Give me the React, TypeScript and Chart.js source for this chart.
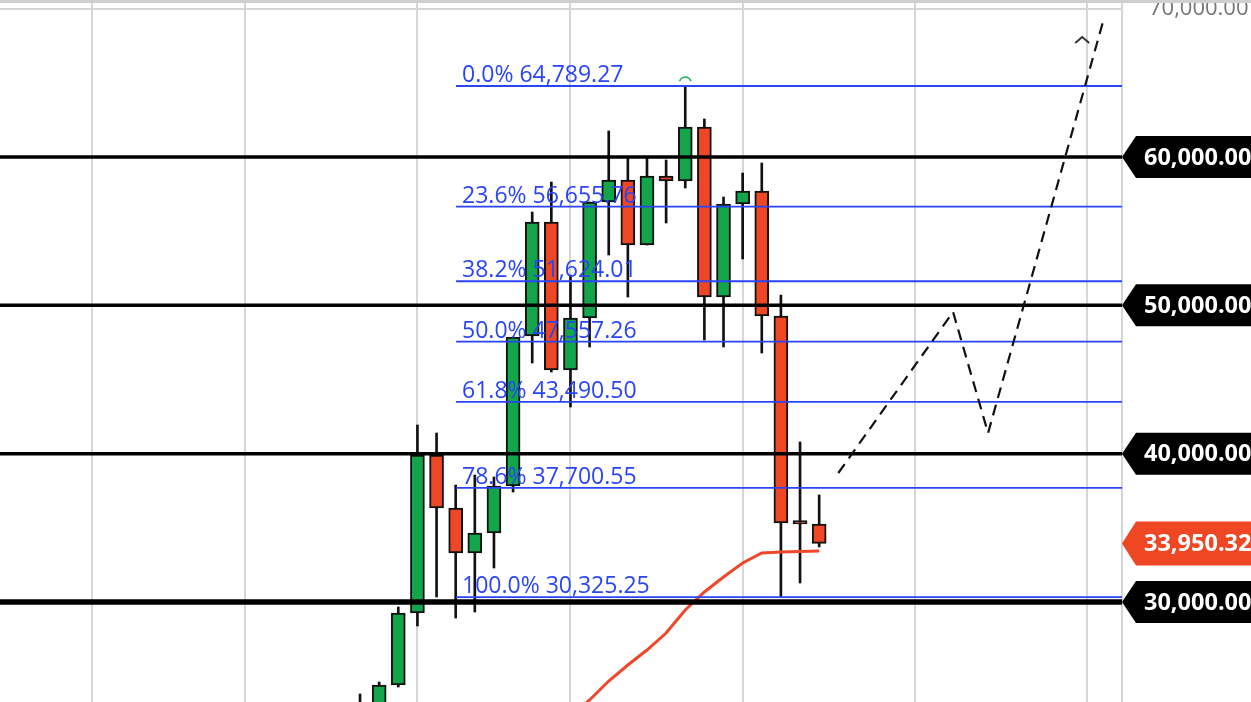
import React, { useEffect, useRef } from "react";
import { Chart, registerables } from "chart.js";

Chart.register(...registerables);

// ---- data (weekly candles, x = candle index) ----
const candleIndex = [0, 1, 2, 3, 4, 5, 6, 7, 8, 9, 10, 11, 12, 13, 14, 15, 16, 17, 18, 19, 20, 21, 22, 23, 24];
const opens = [20696, 22584, 24404, 29258, 39911, 36337, 33304, 34652, 37821, 47934, 55620, 45641, 49147, 56968, 58451, 54069, 58721, 58384, 62025, 50563, 56833, 57710, 49282, 35490, 35259];
const highs = [23797, 24606, 29663, 41933, 41394, 37888, 38562, 38428, 47866, 56294, 58316, 52046, 56968, 61755, 59934, 59934, 59800, 64789.27, 62564, 57305, 58923, 59597, 50698, 40787, 37214];
const lows = [20022, 22314, 24269, 28382, 30337, 28921, 29326, 32292, 37416, 46113, 45507, 43147, 47192, 53395, 50563, 54069, 55552, 57912, 47664, 47192, 53125, 46788, 30325.25, 31281, 33708];
const closes = [23191, 24404, 29258, 39911, 36337, 33304, 34652, 37821, 47866, 55620, 45641, 49147, 56968, 58451, 54069, 58721, 58384, 62025, 50563, 56833, 57710, 49282, 35326, 35259, 33950.32];

const maIndex = [11, 12, 13, 14, 15, 16, 17, 18, 19, 20, 21, 22, 23, 24];
const maValues = [22314, 23393, 24674, 25752, 26764, 27910, 29461, 30674, 31686, 32629, 33304, 33371, 33405, 33438];

const fibRatios = ["0.0%", "23.6%", "38.2%", "50.0%", "61.8%", "78.6%", "100.0%"];
const fibLevels = [64789.27, 56655.76, 51624.01, 47557.26, 43490.5, 37700.55, 30325.25];
const fibStartIndex = 5.02;

const roundLevels = [60000, 50000, 40000, 30000];
const roundWidths = [3.5, 3.5, 3.5, 5.5];

const projectionX = [25, 31, 32.83, 38.89];
const projectionY = [38697, 49552, 41394, 69373];

const arrowMarkX = 37.75;
const arrowMarkY = 68090;

const lastPrice = 33950.32;

const yTickValues = [30000, 40000, 50000, 60000, 70000];
const xGridValues = [-14, -6, 3, 11, 20, 29, 38];

const X_MIN = -18.82;
const X_MAX = 39.83;
const Y_MIN = 23258;
const Y_MAX = 70385;

// ---- styles ----
const GREEN = "#12a54a";
const RED = "#ef4624";
const FIB_BLUE = "#2a45f7";
const GRID = "#d6d6d6";

const fmt = (v: number) =>
  v.toLocaleString("en-US", { minimumFractionDigits: 2, maximumFractionDigits: 2 });

const overlayPlugin = {
  id: "overlay",
  afterDatasetsDraw(chart: any) {
    const { ctx } = chart;
    const x = chart.scales.x;
    const y = chart.scales.y;
    ctx.save();
    ctx.font = "23px 'Open Sans'";
    ctx.fillStyle = FIB_BLUE;
    ctx.textAlign = "left";
    ctx.textBaseline = "alphabetic";
    const lx = x.getPixelForValue(fibStartIndex) + 6;
    fibLevels.forEach((v, i) => {
      const py = y.getPixelForValue(v);
      ctx.fillText(`${fibRatios[i]} ${fmt(v)}`, lx, py - 4);
    });
    const topIdx = highs.indexOf(Math.max(...highs));
    const cx = x.getPixelForValue(candleIndex[topIdx]);
    const cy = y.getPixelForValue(highs[topIdx]) - 3;
    ctx.strokeStyle = "#1fb35a";
    ctx.lineWidth = 1.6;
    ctx.beginPath();
    ctx.arc(cx, cy, 6, Math.PI * 1.1, Math.PI * 1.9);
    ctx.stroke();
    const ax = x.getPixelForValue(arrowMarkX);
    const ay = y.getPixelForValue(arrowMarkY);
    ctx.strokeStyle = "#333";
    ctx.lineWidth = 2;
    ctx.beginPath();
    ctx.moveTo(ax - 7, ay + 6);
    ctx.lineTo(ax, ay);
    ctx.lineTo(ax + 7, ay + 6);
    ctx.stroke();
    ctx.restore();
  },
  afterDraw(chart: any) {
    const { ctx } = chart;
    const y = chart.scales.y;
    const left = chart.chartArea.right;
    const right = chart.width;
    const badge = (v: number, color: string, h: number) => {
      const py = y.getPixelForValue(v);
      const tip = 14;
      ctx.fillStyle = color;
      ctx.beginPath();
      ctx.moveTo(left, py);
      ctx.lineTo(left + tip, py - h / 2);
      ctx.lineTo(right, py - h / 2);
      ctx.lineTo(right, py + h / 2);
      ctx.lineTo(left + tip, py + h / 2);
      ctx.closePath();
      ctx.fill();
      ctx.fillStyle = "#ffffff";
      ctx.font = "bold 23.5px 'Open Sans'";
      ctx.textAlign = "left";
      ctx.textBaseline = "middle";
      ctx.fillText(fmt(v), left + 22, py + 1);
    };
    ctx.save();
    roundLevels.forEach((v) => badge(v, "#000000", 42));
    badge(lastPrice, RED, 44);
    ctx.restore();
  },
};

export default function App() {
  const ref = useRef<HTMLCanvasElement | null>(null);

  useEffect(() => {
    if (!ref.current) return;
    const wicks = candleIndex.map((xv, i) => ({ x: xv, y: [lows[i], highs[i]] }));
    const bodies = candleIndex.map((xv, i) => ({ x: xv, y: [opens[i], closes[i]] }));
    const bodyColors = candleIndex.map((_, i) => (closes[i] >= opens[i] ? GREEN : RED));

    const datasets: any[] = [];
    datasets.push({
      type: "line",
      data: projectionX.map((xv, i) => ({ x: xv, y: projectionY[i] })),
      borderColor: "#111",
      borderWidth: 2.2,
      borderDash: [11, 7],
      pointRadius: 0,
      order: 1,
    });
    roundLevels.forEach((v, i) => {
      datasets.push({
        type: "line",
        data: [
          { x: X_MIN, y: v },
          { x: X_MAX, y: v },
        ],
        borderColor: "#000",
        borderWidth: roundWidths[i],
        pointRadius: 0,
        order: 2,
      });
    });
    fibLevels.forEach((v) => {
      datasets.push({
        type: "line",
        data: [
          { x: fibStartIndex, y: v },
          { x: X_MAX, y: v },
        ],
        borderColor: FIB_BLUE,
        borderWidth: 1.8,
        pointRadius: 0,
        order: 3,
      });
    });
    datasets.push({
      type: "line",
      data: maIndex.map((xv, i) => ({ x: xv, y: maValues[i] })),
      borderColor: "#f0472a",
      borderWidth: 3,
      pointRadius: 0,
      tension: 0,
      order: 4,
    });
    datasets.push({
      type: "bar",
      data: bodies,
      backgroundColor: bodyColors,
      borderColor: "#111",
      borderWidth: 2,
      borderSkipped: false,
      barThickness: 14,
      grouped: false,
      order: 5,
    });
    datasets.push({
      type: "bar",
      data: wicks,
      backgroundColor: "#111",
      borderWidth: 0,
      barThickness: 2,
      grouped: false,
      order: 6,
    });

    const chart = new Chart(ref.current, {
      type: "bar",
      data: { datasets },
      options: {
        animation: false,
        responsive: true,
        maintainAspectRatio: false,
        layout: { padding: 0, autoPadding: false },
        plugins: { legend: { display: false }, tooltip: { enabled: false } },
        scales: {
          x: {
            type: "linear",
            min: X_MIN,
            max: X_MAX,
            offset: false,
            afterBuildTicks: (s: any) => {
              s.ticks = xGridValues.map((v) => ({ value: v }));
            },
            afterFit: (s: any) => {
              s.height = 0;
              s.paddingLeft = 0;
              s.paddingRight = 0;
              s.paddingTop = 0;
              s.paddingBottom = 0;
            },
            ticks: { display: false },
            grid: { color: GRID, lineWidth: 2, drawTicks: false, offset: false },
            border: { display: false },
          },
          y: {
            type: "linear",
            position: "right",
            min: Y_MIN,
            max: Y_MAX,
            afterBuildTicks: (s: any) => {
              s.ticks = yTickValues.map((v) => ({ value: v }));
            },
            afterFit: (s: any) => {
              s.width = 129;
              s.paddingTop = 0;
              s.paddingBottom = 0;
              s.paddingLeft = 0;
              s.paddingRight = 0;
            },
            ticks: {
              callback: (v: any) => fmt(Number(v)),
              color: "#777",
              font: { family: "'Open Sans'", size: 22 },
              padding: 27,
            },
            grid: { color: GRID, lineWidth: 2, drawTicks: false },
            border: { display: true, color: GRID, width: 2 },
          },
        },
      } as any,
      plugins: [overlayPlugin],
    });
    return () => chart.destroy();
  }, []);

  return (
    <div
      style={{
        position: "fixed",
        left: 0,
        top: 0,
        width: 1251,
        height: 702,
        borderTop: "3px solid #cfcfcf",
        boxSizing: "border-box",
        background: "#fff",
      }}
    >
      <div style={{ position: "relative", width: "100%", height: "100%" }}>
        <canvas ref={ref} />
      </div>
    </div>
  );
}
